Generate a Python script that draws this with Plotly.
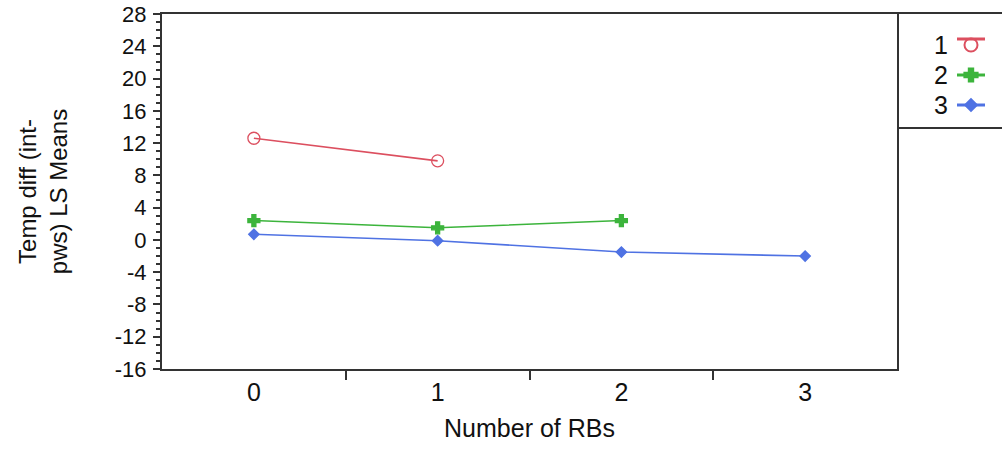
import plotly.graph_objects as go

# ---- data ----
x_levels = [0, 1, 2, 3]
x_tick_labels = ["0", "1", "2", "3"]
series_names = ["1", "2", "3"]
s1_x = [0, 1]
s1_y = [12.6, 9.8]
s2_x = [0, 1, 2]
s2_y = [2.4, 1.5, 2.4]
s3_x = [0, 1, 2, 3]
s3_y = [0.7, -0.1, -1.5, -2.0]
y_ticks = [-16, -12, -8, -4, 0, 4, 8, 12, 16, 20, 24, 28]
y_tick_labels = [str(v) for v in y_ticks]

colors = ["#dc4f5f", "#3cb43c", "#4f72e3"]
symbols = ["circle-open", "cross", "diamond"]
msizes = [12, 10, 8]

FONT = "Liberation Sans, Arial, sans-serif"
AX = "#333333"

fig = go.Figure()
series = [(s1_x, s1_y), (s2_x, s2_y), (s3_x, s3_y)]
for i, (xs, ys) in enumerate(series):
    fig.add_trace(go.Scatter(
        x=xs, y=ys, mode="lines+markers", name=series_names[i],
        line=dict(color=colors[i], width=1.6),
        marker=dict(symbol=symbols[i], size=msizes[i], color=colors[i],
                    line=dict(color=colors[i], width=1.3)),
        showlegend=False, xaxis="x", yaxis="y"))

# custom legend keys (text then symbol) in a separate box on the right
row_y = [45, 75, 105]
for i in range(3):
    fig.add_trace(go.Scatter(
        x=[957, 985], y=[row_y[i] - (6 if i == 0 else 0)] * 2, mode="lines",
        line=dict(color=colors[i], width=3), showlegend=False,
        hoverinfo="skip", xaxis="x2", yaxis="y2"))
    fig.add_trace(go.Scatter(
        x=[971], y=[row_y[i]], mode="markers",
        marker=dict(symbol=symbols[i], size=msizes[i] + 1, color=colors[i],
                    line=dict(color=colors[i], width=2)),
        showlegend=False, hoverinfo="skip", xaxis="x2", yaxis="y2"))
    fig.add_annotation(x=950, y=row_y[i], xref="x2", yref="y2", text=series_names[i],
                       showarrow=False, xanchor="right", yanchor="middle",
                       font=dict(family=FONT, size=25, color="#111"))

main_frac = 735 / 840
fig.update_layout(
    width=1002, height=450,
    margin=dict(l=162, r=0, t=14, b=81, pad=0),
    paper_bgcolor="white", plot_bgcolor="white",
    font=dict(family=FONT, color="#111"),
    xaxis=dict(
        domain=[0, main_frac], range=[-0.5, 3.5],
        tickvals=x_levels, ticktext=x_tick_labels, ticks="",
        tickfont=dict(size=25, color="#111"), ticklabelstandoff=0,
        minor=dict(tickvals=[0.5, 1.5, 2.5], ticks="outside", ticklen=9,
                   tickwidth=2, tickcolor=AX, showgrid=False),
        showgrid=False, zeroline=False, showline=True, linecolor=AX,
        linewidth=2, mirror=True,
        title=dict(text="Number of RBs", font=dict(size=25, color="#111"), standoff=14),
    ),
    yaxis=dict(
        range=[-16, 28], tickvals=y_ticks, ticktext=y_tick_labels,
        ticks="outside", ticklen=7,
        tickwidth=1.5, tickcolor=AX, tickfont=dict(size=22, color="#111"),
        ticklabelstandoff=2, ticklabeloverflow="allow",
        minor=dict(dtick=1, tick0=0, ticks="outside", ticklen=4, tickwidth=1.5,
                   tickcolor=AX, showgrid=False),
        showgrid=False, zeroline=False, showline=True, linecolor=AX,
        linewidth=2, mirror=True,
        title=dict(text="Temp diff (int-<br>pws) LS Means",
                   font=dict(size=24, color="#111"), standoff=40),
    ),
    xaxis2=dict(
        domain=[main_frac, 1], range=[897, 1002], anchor="y2",
        showticklabels=False, ticks="", showgrid=False, zeroline=False,
        showline=True, linecolor=AX, linewidth=2, mirror=True, fixedrange=True,
    ),
    yaxis2=dict(
        domain=[(369 - 127) / 355, 1], range=[127, 14], anchor="x2",
        showticklabels=False, ticks="", showgrid=False, zeroline=False,
        showline=False, fixedrange=True,
    ),
)

fig.write_html("out.html", config={"displayModeBar": False},
               post_script="document.body.style.margin='0';document.body.style.overflow='hidden';")
